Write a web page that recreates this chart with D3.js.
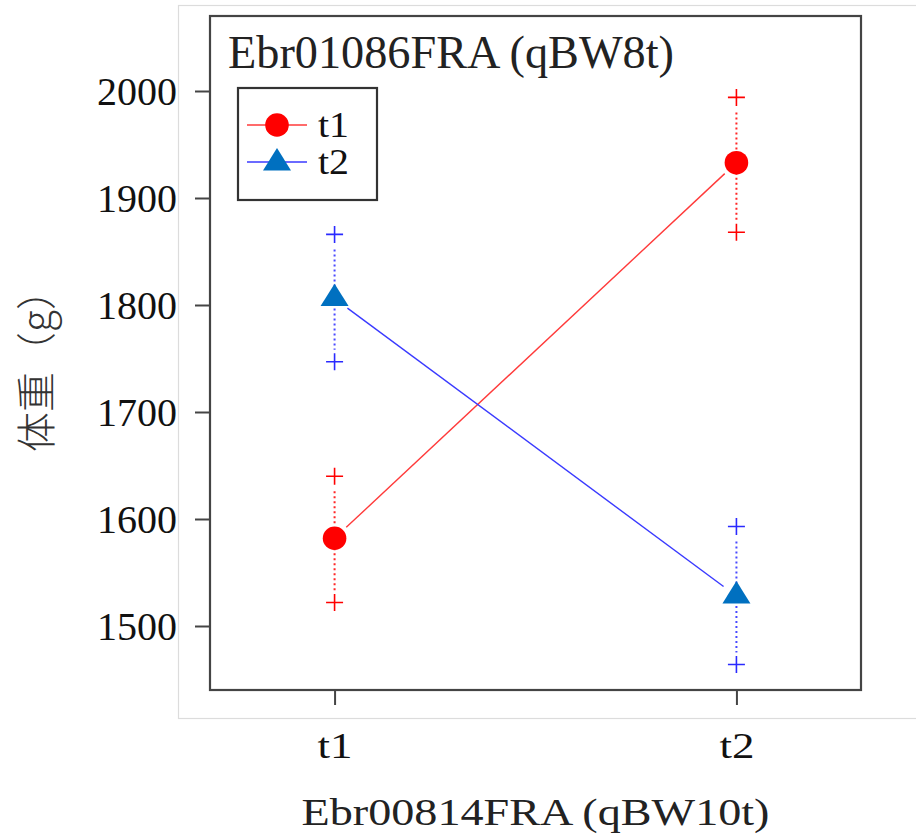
<!DOCTYPE html>
<html><head><meta charset="utf-8">
<script src="https://cdn.jsdelivr.net/npm/d3@7"></script>
<style>body{margin:0;background:#fff}svg{display:block}</style>
</head><body>
<script>
// ---- data ----
const groups = ["t1", "t2"];
const seriesNames = ["t1", "t2"];
const meanT1 = [1582, 1933];
const upperT1 = [1640, 1994];
const lowerT1 = [1522, 1868];
const meanT2 = [1806, 1528];
const upperT2 = [1866, 1593];
const lowerT2 = [1747, 1464];
const yTicks = [1500, 1600, 1700, 1800, 1900, 2000];
const titleText = "Ebr01086FRA (qBW8t)";
const xLabel = "Ebr00814FRA (qBW10t)";
const yLabel = "体重（g）";

const W = 916, H = 839;
const svg = d3.select("body").append("svg").attr("width", W).attr("height", H);
const serif = "'Liberation Serif','Times New Roman',serif";

const box = {l: 210, t: 16, r: 861, b: 690};
const y = d3.scaleLinear().domain([1500, 2000]).range([626, 91]);
const x = d3.scalePoint().domain(groups).range([box.l, box.r]).padding(0.31);

// outer light frame
svg.append("rect").attr("x", 178.5).attr("y", 5.5).attr("width", 760).attr("height", 713)
  .attr("fill", "none").attr("stroke", "#dcdcdc").attr("stroke-width", 1.2);

// plot box
svg.append("rect").attr("x", box.l).attr("y", box.t).attr("width", box.r - box.l).attr("height", box.b - box.t)
  .attr("fill", "none").attr("stroke", "#444").attr("stroke-width", 2.2);

// y axis
const yAxis = d3.axisLeft(y).tickValues(yTicks).tickFormat(d3.format("d")).tickSize(15).tickPadding(18);
const ya = svg.append("g").attr("transform", `translate(${box.l},0)`).call(yAxis);
ya.select(".domain").remove();
ya.selectAll(".tick line").attr("stroke", "#444").attr("stroke-width", 2);
ya.selectAll(".tick text").attr("font-family", serif)
  .attr("font-size", 40).attr("fill", "#111").attr("dy", "0.33em");

// x axis
const xAxis = d3.axisBottom(x).tickSize(15).tickPadding(30);
const xa = svg.append("g").attr("transform", `translate(0,${box.b})`).call(xAxis);
xa.select(".domain").remove();
xa.selectAll(".tick line").attr("stroke", "#444").attr("stroke-width", 2);
xa.selectAll(".tick text").attr("font-family", serif)
  .attr("font-size", 36).attr("fill", "#111").attr("dy", 0).attr("y", 68)
  .attr("textLength", 35).attr("lengthAdjust", "spacingAndGlyphs");

// title
svg.append("text").attr("x", 228).attr("y", 68).text(titleText)
  .attr("font-family", serif).attr("font-size", 47)
  .attr("fill", "#222").attr("textLength", 446).attr("lengthAdjust", "spacingAndGlyphs");

// x label
svg.append("text").attr("x", (box.l + box.r) / 2).attr("y", 825).attr("text-anchor", "middle").text(xLabel)
  .attr("font-family", serif).attr("font-size", 38)
  .attr("fill", "#222").attr("textLength", 468).attr("lengthAdjust", "spacingAndGlyphs");

// y label
svg.append("text").attr("transform", "translate(34,361) rotate(-90)").attr("text-anchor", "middle")
  .attr("dominant-baseline", "central").text(yLabel)
  .attr("font-family", "'Noto Sans CJK SC','Noto Sans CJK JP',sans-serif").attr("font-weight", 300)
  .attr("font-size", 40).attr("fill", "#333");

const series = [
  {name: seriesNames[0], mean: meanT1, up: upperT1, lo: lowerT1, line: "#ff3a3a", col: "#ff0000", mark: "circle", fill: "#ff0000"},
  {name: seriesNames[1], mean: meanT2, up: upperT2, lo: lowerT2, line: "#3a3aff", col: "#2a2aff", mark: "triangle", fill: "#0070c0"}
];

const triPath = (cx, cy, s) => {
  const h = s * 0.8;
  return `M${cx},${cy - h * 2 / 3}L${cx + s / 2},${cy + h / 3}L${cx - s / 2},${cy + h / 3}Z`;
};

series.forEach(s => {
  const g = svg.append("g");
  const x0 = x(groups[0]), y0 = y(s.mean[0]), x1 = x(groups[1]), y1 = y(s.mean[1]);
  const len = Math.hypot(x1 - x0, y1 - y0), gap = 16;
  const ux = (x1 - x0) / len, uy = (y1 - y0) / len;
  g.append("line").attr("x1", x0 + ux * gap).attr("y1", y0 + uy * gap)
    .attr("x2", x1 - ux * gap).attr("y2", y1 - uy * gap)
    .attr("stroke", s.line).attr("stroke-width", 1.4);
  groups.forEach((grp, i) => {
    const cx = x(grp);
    const yu = y(s.up[i]), yl = y(s.lo[i]), ym = y(s.mean[i]);
    g.append("line").attr("x1", cx).attr("x2", cx).attr("y1", yu + 15).attr("y2", ym - 12)
      .attr("stroke", s.col).attr("stroke-width", 2).attr("stroke-dasharray", "2,3").attr("opacity", 0.85);
    g.append("line").attr("x1", cx).attr("x2", cx).attr("y1", ym + 10).attr("y2", yl - 12)
      .attr("stroke", s.col).attr("stroke-width", 2).attr("stroke-dasharray", "2,3").attr("opacity", 0.85);
    [yu, yl].forEach(yy => {
      g.append("path").attr("d", `M${cx - 8.5},${yy}H${cx + 8.5}M${cx},${yy - 8.5}V${yy + 8.5}`)
        .attr("stroke", s.col).attr("stroke-width", 1.6).attr("fill", "none");
    });
    if (s.mark === "circle") {
      g.append("circle").attr("cx", cx).attr("cy", ym).attr("r", 11.8).attr("fill", s.fill);
    } else {
      g.append("path").attr("d", triPath(cx, ym, 28)).attr("fill", s.fill);
    }
  });
});

// legend
const lg = svg.append("g");
lg.append("rect").attr("x", 238).attr("y", 88).attr("width", 139).attr("height", 112)
  .attr("fill", "#fff").attr("stroke", "#333").attr("stroke-width", 2.2);
series.forEach((s, i) => {
  const yy = 125 + i * 37;
  lg.append("line").attr("x1", 247).attr("x2", 307).attr("y1", yy).attr("y2", yy)
    .attr("stroke", s.line).attr("stroke-width", 1.6);
  if (s.mark === "circle") lg.append("circle").attr("cx", 277).attr("cy", yy).attr("r", 11.8).attr("fill", s.fill);
  else lg.append("path").attr("d", triPath(277, yy + 1, 28)).attr("fill", s.fill);
  lg.append("text").attr("x", 318).attr("y", yy + 12).text(s.name)
    .attr("font-family", serif).attr("font-size", 35)
    .attr("fill", "#111").attr("textLength", 31).attr("lengthAdjust", "spacingAndGlyphs");
});
</script>
</body></html>
